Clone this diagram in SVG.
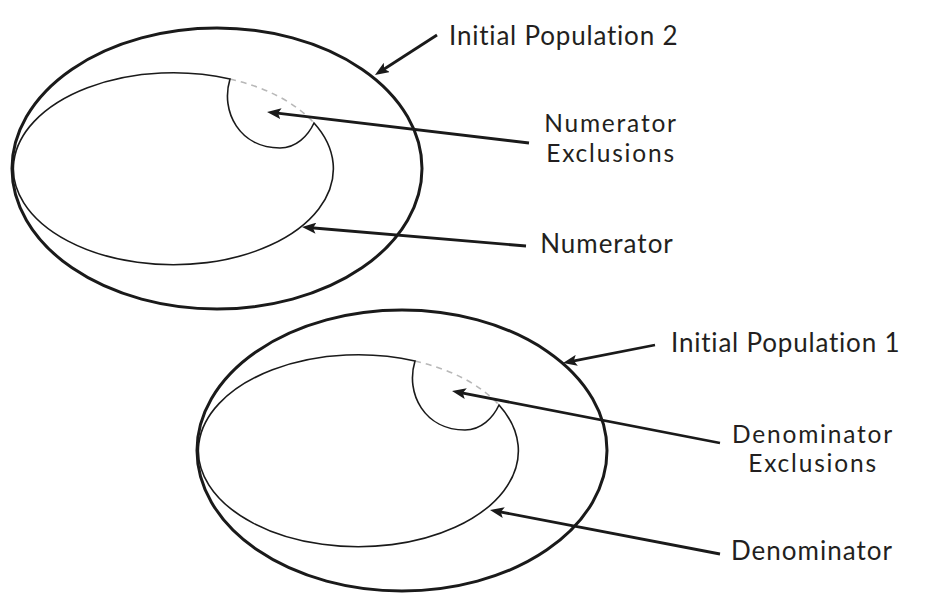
<svg xmlns="http://www.w3.org/2000/svg" width="943" height="602" viewBox="0 0 943 602">
<style>
.outer{fill:none;stroke:#1a1a1a;stroke-width:3}
.inner{fill:none;stroke:#1a1a1a;stroke-width:1.6}
.dash{fill:none;stroke:#b8b8b8;stroke-width:1.6;stroke-dasharray:6 5}
.conn{fill:none;stroke:#1a1a1a;stroke-width:2.8;marker-end:url(#ah)}
.lbl{font-family:Lato,"Open Sans",sans-serif;font-size:26px;letter-spacing:1px;fill:#231f20}
.lbl1{letter-spacing:0.8px}
.lbl2{font-size:24.5px;letter-spacing:1.8px}
</style>
<defs>
<marker id="ah" markerUnits="userSpaceOnUse" viewBox="0 0 14 11" refX="8" refY="5.5" markerWidth="14" markerHeight="11" orient="auto">
<path d="M0,0 L14,5.5 L0,11 L3,5.5 Z" fill="#1a1a1a"/>
</marker>
<g id="set">
<ellipse class="outer" cx="217" cy="168.5" rx="205" ry="140.5"/>
<path class="dash" d="M230,79 A160,96 0 0 1 314,123"/>
<path class="inner" d="M230,79 A160,96 0 1 0 314,123 C308,136 296,148 280,148 C240,148 220,112 230,79 Z"/>
</g>
</defs>
<g id="population2">
<use href="#set"/>
</g>
<g id="population1">
<use href="#set" transform="translate(185,282)"/>
</g>
<g id="connectors">
<line class="conn" x1="437" y1="35" x2="380" y2="71.7"/>
<line class="conn" x1="529" y1="143" x2="273" y2="112.7"/>
<line class="conn" x1="526" y1="246" x2="308" y2="227.5"/>
<line class="conn" x1="655" y1="345" x2="568.9" y2="361.8"/>
<line class="conn" x1="720" y1="443" x2="457.9" y2="392.1"/>
<line class="conn" x1="720" y1="554" x2="495.9" y2="511.1"/>
</g>
<g id="label-ip2"><text class="lbl lbl1" x="449" y="45">Initial Population 2</text></g>
<g id="label-numexcl"><text class="lbl lbl2" text-anchor="middle" x="611" y="132"><tspan x="611" y="132">Numerator</tspan><tspan x="611" y="162">Exclusions</tspan></text></g>
<g id="label-num"><text class="lbl" text-anchor="middle" x="607" y="253">Numerator</text></g>
<g id="label-ip1"><text class="lbl lbl1" x="671" y="352">Initial Population 1</text></g>
<g id="label-denexcl"><text class="lbl lbl2" text-anchor="middle" x="813" y="443"><tspan x="813" y="443">Denominator</tspan><tspan x="813" y="472">Exclusions</tspan></text></g>
<g id="label-den"><text class="lbl" text-anchor="middle" x="812" y="560">Denominator</text></g>
</svg>
